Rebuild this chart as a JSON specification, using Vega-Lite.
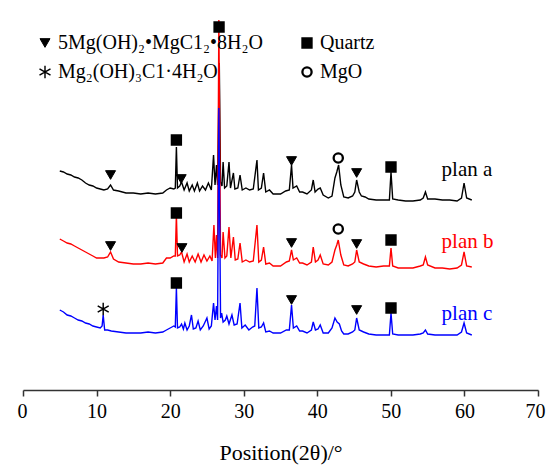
{
  "$schema": "https://vega.github.io/schema/vega-lite/v6.json",
  "width": 515,
  "height": 380,
  "autosize": {"type": "none"},
  "padding": {"left": 23, "top": 10, "right": 9, "bottom": 80},
  "background": "white",
  "config": {"view": {"stroke": null}},
  "datasets": {
    "xrd": [
      {"s":"plan a","t":5.0,"v":219},{"s":"plan a","t":5.5,"v":218},{"s":"plan a","t":6.0,"v":216},{"s":"plan a","t":6.5,"v":215},{"s":"plan a","t":7.0,"v":213},{"s":"plan a","t":7.5,"v":212},{"s":"plan a","t":8.0,"v":210},{"s":"plan a","t":8.5,"v":207},{"s":"plan a","t":9.0,"v":205},{"s":"plan a","t":9.5,"v":204},{"s":"plan a","t":10.0,"v":202},{"s":"plan a","t":10.5,"v":201},{"s":"plan a","t":11.0,"v":200},{"s":"plan a","t":11.5,"v":201},{"s":"plan a","t":11.9,"v":205},{"s":"plan a","t":12.3,"v":200},{"s":"plan a","t":13.0,"v":199},{"s":"plan a","t":14.0,"v":197},{"s":"plan a","t":15.0,"v":197},{"s":"plan a","t":16.0,"v":196},{"s":"plan a","t":17.0,"v":197},{"s":"plan a","t":18.0,"v":196},{"s":"plan a","t":19.0,"v":197},{"s":"plan a","t":19.5,"v":200},{"s":"plan a","t":20.0,"v":202},{"s":"plan a","t":20.5,"v":201},{"s":"plan a","t":20.7,"v":202},{"s":"plan a","t":20.85,"v":243},{"s":"plan a","t":21.0,"v":202},{"s":"plan a","t":21.3,"v":204},{"s":"plan a","t":21.55,"v":208},{"s":"plan a","t":21.9,"v":200},{"s":"plan a","t":22.3,"v":207},{"s":"plan a","t":22.6,"v":199},{"s":"plan a","t":23.0,"v":205},{"s":"plan a","t":23.3,"v":199},{"s":"plan a","t":23.7,"v":207},{"s":"plan a","t":24.0,"v":199},{"s":"plan a","t":24.4,"v":204},{"s":"plan a","t":24.8,"v":200},{"s":"plan a","t":25.2,"v":207},{"s":"plan a","t":25.6,"v":200},{"s":"plan a","t":25.9,"v":235},{"s":"plan a","t":26.1,"v":205},{"s":"plan a","t":26.3,"v":225},{"s":"plan a","t":26.45,"v":205},{"s":"plan a","t":26.68,"v":327},{"s":"plan a","t":26.85,"v":208},{"s":"plan a","t":27.05,"v":204},{"s":"plan a","t":27.2,"v":228},{"s":"plan a","t":27.4,"v":202},{"s":"plan a","t":27.7,"v":204},{"s":"plan a","t":28.0,"v":228},{"s":"plan a","t":28.2,"v":202},{"s":"plan a","t":28.6,"v":217},{"s":"plan a","t":28.8,"v":201},{"s":"plan a","t":29.2,"v":202},{"s":"plan a","t":29.5,"v":215},{"s":"plan a","t":29.8,"v":200},{"s":"plan a","t":30.3,"v":202},{"s":"plan a","t":30.8,"v":200},{"s":"plan a","t":31.3,"v":201},{"s":"plan a","t":31.8,"v":230},{"s":"plan a","t":32.0,"v":200},{"s":"plan a","t":32.4,"v":202},{"s":"plan a","t":32.7,"v":217},{"s":"plan a","t":33.0,"v":198},{"s":"plan a","t":33.5,"v":200},{"s":"plan a","t":34.0,"v":196},{"s":"plan a","t":35.0,"v":196},{"s":"plan a","t":35.7,"v":199},{"s":"plan a","t":36.2,"v":200},{"s":"plan a","t":36.5,"v":225},{"s":"plan a","t":36.7,"v":202},{"s":"plan a","t":37.2,"v":204},{"s":"plan a","t":37.6,"v":198},{"s":"plan a","t":38.0,"v":198},{"s":"plan a","t":38.6,"v":196},{"s":"plan a","t":39.2,"v":200},{"s":"plan a","t":39.45,"v":210},{"s":"plan a","t":39.7,"v":198},{"s":"plan a","t":40.1,"v":201},{"s":"plan a","t":40.4,"v":202},{"s":"plan a","t":40.8,"v":195},{"s":"plan a","t":41.5,"v":192},{"s":"plan a","t":42.0,"v":194},{"s":"plan a","t":42.4,"v":212},{"s":"plan a","t":42.65,"v":218},{"s":"plan a","t":42.9,"v":225},{"s":"plan a","t":43.2,"v":205},{"s":"plan a","t":43.6,"v":193},{"s":"plan a","t":44.2,"v":192},{"s":"plan a","t":44.8,"v":194},{"s":"plan a","t":45.1,"v":198},{"s":"plan a","t":45.35,"v":210},{"s":"plan a","t":45.7,"v":198},{"s":"plan a","t":46.0,"v":194},{"s":"plan a","t":46.5,"v":193},{"s":"plan a","t":47.0,"v":191},{"s":"plan a","t":48.0,"v":190},{"s":"plan a","t":49.0,"v":190},{"s":"plan a","t":49.8,"v":190},{"s":"plan a","t":50.02,"v":218},{"s":"plan a","t":50.25,"v":191},{"s":"plan a","t":51.0,"v":190},{"s":"plan a","t":52.0,"v":189},{"s":"plan a","t":53.0,"v":189},{"s":"plan a","t":54.0,"v":190},{"s":"plan a","t":54.4,"v":192},{"s":"plan a","t":54.7,"v":198},{"s":"plan a","t":55.0,"v":191},{"s":"plan a","t":56.0,"v":191},{"s":"plan a","t":57.0,"v":190},{"s":"plan a","t":58.0,"v":190},{"s":"plan a","t":59.0,"v":189},{"s":"plan a","t":59.6,"v":192},{"s":"plan a","t":59.95,"v":207},{"s":"plan a","t":60.3,"v":192},{"s":"plan a","t":61.0,"v":190},

      {"s":"plan b","t":5.0,"v":151},{"s":"plan b","t":5.5,"v":149},{"s":"plan b","t":6.0,"v":147},{"s":"plan b","t":6.5,"v":146},{"s":"plan b","t":7.0,"v":144},{"s":"plan b","t":7.5,"v":142},{"s":"plan b","t":8.0,"v":140},{"s":"plan b","t":8.5,"v":138},{"s":"plan b","t":9.0,"v":136},{"s":"plan b","t":9.5,"v":134},{"s":"plan b","t":10.0,"v":132},{"s":"plan b","t":10.5,"v":132},{"s":"plan b","t":11.0,"v":132},{"s":"plan b","t":11.5,"v":133},{"s":"plan b","t":11.9,"v":138},{"s":"plan b","t":12.3,"v":131},{"s":"plan b","t":13.0,"v":128},{"s":"plan b","t":14.0,"v":127},{"s":"plan b","t":15.0,"v":126},{"s":"plan b","t":16.0,"v":126},{"s":"plan b","t":17.0,"v":127},{"s":"plan b","t":18.0,"v":126},{"s":"plan b","t":19.0,"v":127},{"s":"plan b","t":19.5,"v":132},{"s":"plan b","t":20.0,"v":132},{"s":"plan b","t":20.5,"v":134},{"s":"plan b","t":20.7,"v":134},{"s":"plan b","t":20.85,"v":175},{"s":"plan b","t":21.0,"v":134},{"s":"plan b","t":21.3,"v":135},{"s":"plan b","t":21.55,"v":138},{"s":"plan b","t":21.9,"v":128},{"s":"plan b","t":22.3,"v":136},{"s":"plan b","t":22.6,"v":128},{"s":"plan b","t":23.0,"v":134},{"s":"plan b","t":23.4,"v":128},{"s":"plan b","t":23.8,"v":136},{"s":"plan b","t":24.2,"v":128},{"s":"plan b","t":24.6,"v":135},{"s":"plan b","t":25.0,"v":129},{"s":"plan b","t":25.4,"v":134},{"s":"plan b","t":25.7,"v":129},{"s":"plan b","t":25.95,"v":165},{"s":"plan b","t":26.15,"v":132},{"s":"plan b","t":26.3,"v":155},{"s":"plan b","t":26.45,"v":132},{"s":"plan b","t":26.62,"v":370},{"s":"plan b","t":26.85,"v":135},{"s":"plan b","t":27.05,"v":132},{"s":"plan b","t":27.2,"v":158},{"s":"plan b","t":27.45,"v":132},{"s":"plan b","t":27.7,"v":134},{"s":"plan b","t":28.0,"v":163},{"s":"plan b","t":28.25,"v":132},{"s":"plan b","t":28.6,"v":153},{"s":"plan b","t":28.85,"v":130},{"s":"plan b","t":29.2,"v":131},{"s":"plan b","t":29.5,"v":147},{"s":"plan b","t":29.8,"v":128},{"s":"plan b","t":30.3,"v":130},{"s":"plan b","t":30.8,"v":128},{"s":"plan b","t":31.3,"v":129},{"s":"plan b","t":31.8,"v":165},{"s":"plan b","t":32.05,"v":128},{"s":"plan b","t":32.4,"v":130},{"s":"plan b","t":32.7,"v":143},{"s":"plan b","t":33.0,"v":126},{"s":"plan b","t":33.5,"v":127},{"s":"plan b","t":34.0,"v":124},{"s":"plan b","t":35.0,"v":124},{"s":"plan b","t":35.8,"v":128},{"s":"plan b","t":36.2,"v":129},{"s":"plan b","t":36.5,"v":140},{"s":"plan b","t":36.75,"v":130},{"s":"plan b","t":37.2,"v":132},{"s":"plan b","t":37.6,"v":127},{"s":"plan b","t":38.0,"v":127},{"s":"plan b","t":38.6,"v":125},{"s":"plan b","t":39.2,"v":128},{"s":"plan b","t":39.45,"v":143},{"s":"plan b","t":39.75,"v":128},{"s":"plan b","t":40.1,"v":130},{"s":"plan b","t":40.4,"v":135},{"s":"plan b","t":40.8,"v":126},{"s":"plan b","t":41.5,"v":125},{"s":"plan b","t":42.0,"v":128},{"s":"plan b","t":42.4,"v":140},{"s":"plan b","t":42.65,"v":145},{"s":"plan b","t":42.85,"v":150},{"s":"plan b","t":43.2,"v":135},{"s":"plan b","t":43.6,"v":125},{"s":"plan b","t":44.2,"v":124},{"s":"plan b","t":44.8,"v":126},{"s":"plan b","t":45.1,"v":128},{"s":"plan b","t":45.35,"v":140},{"s":"plan b","t":45.7,"v":128},{"s":"plan b","t":46.3,"v":126},{"s":"plan b","t":47.0,"v":124},{"s":"plan b","t":48.0,"v":123},{"s":"plan b","t":49.0,"v":124},{"s":"plan b","t":49.8,"v":124},{"s":"plan b","t":50.02,"v":142},{"s":"plan b","t":50.25,"v":124},{"s":"plan b","t":51.0,"v":122},{"s":"plan b","t":52.0,"v":122},{"s":"plan b","t":53.0,"v":122},{"s":"plan b","t":54.0,"v":124},{"s":"plan b","t":54.4,"v":125},{"s":"plan b","t":54.7,"v":133},{"s":"plan b","t":55.0,"v":125},{"s":"plan b","t":56.0,"v":122},{"s":"plan b","t":57.0,"v":122},{"s":"plan b","t":58.0,"v":121},{"s":"plan b","t":59.0,"v":122},{"s":"plan b","t":59.6,"v":125},{"s":"plan b","t":59.95,"v":138},{"s":"plan b","t":60.3,"v":124},{"s":"plan b","t":61.0,"v":123},

      {"s":"plan c","t":5.0,"v":80},{"s":"plan c","t":5.5,"v":78},{"s":"plan c","t":6.0,"v":75},{"s":"plan c","t":6.5,"v":74},{"s":"plan c","t":7.0,"v":72},{"s":"plan c","t":7.5,"v":70},{"s":"plan c","t":8.0,"v":69},{"s":"plan c","t":8.5,"v":67},{"s":"plan c","t":9.0,"v":66},{"s":"plan c","t":9.5,"v":64},{"s":"plan c","t":10.0,"v":63},{"s":"plan c","t":10.5,"v":62},{"s":"plan c","t":10.75,"v":64},{"s":"plan c","t":10.9,"v":75},{"s":"plan c","t":11.1,"v":60},{"s":"plan c","t":11.5,"v":60},{"s":"plan c","t":12.0,"v":59},{"s":"plan c","t":13.0,"v":58},{"s":"plan c","t":14.0,"v":57},{"s":"plan c","t":15.0,"v":57},{"s":"plan c","t":16.0,"v":57},{"s":"plan c","t":17.0,"v":58},{"s":"plan c","t":18.0,"v":57},{"s":"plan c","t":19.0,"v":58},{"s":"plan c","t":19.5,"v":60},{"s":"plan c","t":20.0,"v":62},{"s":"plan c","t":20.5,"v":64},{"s":"plan c","t":20.7,"v":63},{"s":"plan c","t":20.85,"v":102},{"s":"plan c","t":21.0,"v":62},{"s":"plan c","t":21.3,"v":63},{"s":"plan c","t":21.55,"v":66},{"s":"plan c","t":21.8,"v":61},{"s":"plan c","t":22.0,"v":67},{"s":"plan c","t":22.3,"v":60},{"s":"plan c","t":22.6,"v":64},{"s":"plan c","t":22.9,"v":75},{"s":"plan c","t":23.15,"v":61},{"s":"plan c","t":23.5,"v":62},{"s":"plan c","t":23.8,"v":69},{"s":"plan c","t":24.1,"v":60},{"s":"plan c","t":24.5,"v":64},{"s":"plan c","t":25.0,"v":72},{"s":"plan c","t":25.3,"v":61},{"s":"plan c","t":25.6,"v":64},{"s":"plan c","t":25.9,"v":87},{"s":"plan c","t":26.1,"v":70},{"s":"plan c","t":26.3,"v":84},{"s":"plan c","t":26.45,"v":70},{"s":"plan c","t":26.62,"v":282},{"s":"plan c","t":26.85,"v":72},{"s":"plan c","t":27.0,"v":77},{"s":"plan c","t":27.2,"v":68},{"s":"plan c","t":27.5,"v":70},{"s":"plan c","t":27.7,"v":74},{"s":"plan c","t":28.0,"v":66},{"s":"plan c","t":28.4,"v":75},{"s":"plan c","t":28.7,"v":65},{"s":"plan c","t":29.1,"v":66},{"s":"plan c","t":29.5,"v":87},{"s":"plan c","t":29.75,"v":62},{"s":"plan c","t":30.2,"v":65},{"s":"plan c","t":30.7,"v":60},{"s":"plan c","t":31.2,"v":63},{"s":"plan c","t":31.5,"v":64},{"s":"plan c","t":31.8,"v":102},{"s":"plan c","t":32.05,"v":62},{"s":"plan c","t":32.4,"v":63},{"s":"plan c","t":32.7,"v":67},{"s":"plan c","t":33.0,"v":58},{"s":"plan c","t":33.5,"v":59},{"s":"plan c","t":34.0,"v":57},{"s":"plan c","t":35.0,"v":57},{"s":"plan c","t":35.8,"v":60},{"s":"plan c","t":36.2,"v":60},{"s":"plan c","t":36.5,"v":85},{"s":"plan c","t":36.75,"v":62},{"s":"plan c","t":37.2,"v":64},{"s":"plan c","t":37.6,"v":59},{"s":"plan c","t":38.0,"v":59},{"s":"plan c","t":38.6,"v":57},{"s":"plan c","t":39.2,"v":60},{"s":"plan c","t":39.45,"v":68},{"s":"plan c","t":39.75,"v":60},{"s":"plan c","t":40.1,"v":61},{"s":"plan c","t":40.4,"v":65},{"s":"plan c","t":40.8,"v":57},{"s":"plan c","t":41.5,"v":57},{"s":"plan c","t":42.0,"v":62},{"s":"plan c","t":42.4,"v":72},{"s":"plan c","t":42.7,"v":68},{"s":"plan c","t":43.0,"v":66},{"s":"plan c","t":43.3,"v":59},{"s":"plan c","t":43.6,"v":56},{"s":"plan c","t":44.2,"v":56},{"s":"plan c","t":44.8,"v":58},{"s":"plan c","t":45.1,"v":60},{"s":"plan c","t":45.35,"v":72},{"s":"plan c","t":45.7,"v":60},{"s":"plan c","t":46.3,"v":58},{"s":"plan c","t":47.0,"v":56},{"s":"plan c","t":48.0,"v":55},{"s":"plan c","t":49.0,"v":55},{"s":"plan c","t":49.8,"v":55},{"s":"plan c","t":50.02,"v":77},{"s":"plan c","t":50.25,"v":56},{"s":"plan c","t":51.0,"v":55},{"s":"plan c","t":52.0,"v":55},{"s":"plan c","t":53.0,"v":55},{"s":"plan c","t":54.0,"v":56},{"s":"plan c","t":54.4,"v":57},{"s":"plan c","t":54.7,"v":60},{"s":"plan c","t":55.0,"v":56},{"s":"plan c","t":56.0,"v":55},{"s":"plan c","t":57.0,"v":55},{"s":"plan c","t":58.0,"v":55},{"s":"plan c","t":59.0,"v":55},{"s":"plan c","t":59.6,"v":58},{"s":"plan c","t":59.95,"v":67},{"s":"plan c","t":60.3,"v":57},{"s":"plan c","t":61.0,"v":55}
    ],
    "peaks": [
      {"s":"plan a","phase":"5Mg(OH)₂•MgC1₂•8H₂O","t":11.9,"v":215},
      {"s":"plan a","phase":"5Mg(OH)₂•MgC1₂•8H₂O","t":21.5,"v":211},
      {"s":"plan a","phase":"5Mg(OH)₂•MgC1₂•8H₂O","t":36.5,"v":229},
      {"s":"plan a","phase":"5Mg(OH)₂•MgC1₂•8H₂O","t":45.35,"v":217},
      {"s":"plan a","phase":"Quartz","t":20.85,"v":250},
      {"s":"plan a","phase":"Quartz","t":26.65,"v":363},
      {"s":"plan a","phase":"Quartz","t":50.02,"v":223},
      {"s":"plan a","phase":"MgO","t":42.85,"v":232},
      {"s":"plan b","phase":"5Mg(OH)₂•MgC1₂•8H₂O","t":11.9,"v":144},
      {"s":"plan b","phase":"5Mg(OH)₂•MgC1₂•8H₂O","t":21.6,"v":142},
      {"s":"plan b","phase":"5Mg(OH)₂•MgC1₂•8H₂O","t":36.5,"v":147},
      {"s":"plan b","phase":"5Mg(OH)₂•MgC1₂•8H₂O","t":45.35,"v":146},
      {"s":"plan b","phase":"Quartz","t":20.85,"v":177},
      {"s":"plan b","phase":"Quartz","t":50.02,"v":150},
      {"s":"plan b","phase":"MgO","t":42.85,"v":161},
      {"s":"plan c","phase":"Mg₂(OH)₃C1·4H₂O","t":10.9,"v":81},
      {"s":"plan c","phase":"Quartz","t":20.85,"v":107},
      {"s":"plan c","phase":"Quartz","t":50.02,"v":82},
      {"s":"plan c","phase":"5Mg(OH)₂•MgC1₂•8H₂O","t":36.5,"v":90},
      {"s":"plan c","phase":"5Mg(OH)₂•MgC1₂•8H₂O","t":45.35,"v":80}
    ],
    "labels": [
      {"s":"plan a","t":56.9,"v":214},
      {"s":"plan b","t":56.9,"v":142},
      {"s":"plan c","t":56.9,"v":70}
    ]
  },
  "layer": [
    {
      "data": {"name": "xrd"},
      "mark": {"type": "line", "strokeWidth": 1.4, "interpolate": "linear"},
      "encoding": {
        "x": {"field": "t", "type": "quantitative",
              "scale": {"domain": [0, 70], "nice": false, "zero": false},
              "axis": {
                "values": [0,5,10,15,20,25,30,35,40,45,50,55,60,65,70],
                "labelExpr": "datum.value % 10 === 0 ? datum.label : ''",
                "tickSize": {"expr": "datum.value % 10 === 0 ? 6 : 2"},
                "labelOffset": {"expr": "datum.value === 70 ? -3 : (datum.value === 0 ? -1 : 0)"},
                "grid": false,
                "title": "Position(2θ)/°",
                "domainColor": "#333333",
                "domainWidth": 1.5,
                "tickColor": "#333333",
                "tickWidth": 1.5,
                "labelFont": "Liberation Serif",
                "labelFontSize": 20,
                "labelColor": "#000000",
                "labelPadding": 5,
                "labelFlush": false,
                "titleFont": "Liberation Serif",
                "titleFontSize": 22,
                "titleFontWeight": "normal",
                "titleColor": "#000000",
                "titlePadding": 21
              }},
        "y": {"field": "v", "type": "quantitative",
              "scale": {"domain": [0, 380], "nice": false, "zero": false},
              "axis": null},
        "color": {"field": "s", "type": "nominal",
                  "scale": {"domain": ["plan a", "plan b", "plan c"], "range": ["#000000", "#ff0000", "#0000ff"]},
                  "legend": null}
      }
    },
    {
      "data": {"name": "peaks"},
      "mark": {"type": "point", "filled": false, "opacity": 1},
      "encoding": {
        "x": {"field": "t", "type": "quantitative"},
        "y": {"field": "v", "type": "quantitative"},
        "shape": {"field": "phase", "type": "nominal",
                  "scale": {"domain": ["5Mg(OH)₂•MgC1₂•8H₂O", "Mg₂(OH)₃C1·4H₂O", "Quartz", "MgO"],
                            "range": ["triangle-down", "M0,-1.3L0,1.3M-1.13,-0.65L1.13,0.65M-1.13,0.65L1.13,-0.65", "square", "circle"]},
                  "legend": {"orient": "none", "legendX": 12, "legendY": 23, "columns": 2, "title": null,
                             "labelFont": "Liberation Serif", "labelFontSize": 20, "labelColor": "#000000",
                             "labelLimit": 0, "labelOffset": 3,
                             "rowPadding": 9, "columnPadding": 34, "padding": 0}},
        "fill": {"field": "phase", "type": "nominal",
                 "scale": {"domain": ["5Mg(OH)₂•MgC1₂•8H₂O", "Mg₂(OH)₃C1·4H₂O", "Quartz", "MgO"],
                           "range": ["#000000", "transparent", "#000000", "#ffffff"]}},
        "stroke": {"field": "phase", "type": "nominal",
                   "scale": {"domain": ["5Mg(OH)₂•MgC1₂•8H₂O", "Mg₂(OH)₃C1·4H₂O", "Quartz", "MgO"],
                             "range": ["#000000", "#000000", "#000000", "#000000"]}},
        "strokeWidth": {"field": "phase", "type": "nominal",
                   "scale": {"domain": ["5Mg(OH)₂•MgC1₂•8H₂O", "Mg₂(OH)₃C1·4H₂O", "Quartz", "MgO"],
                             "range": [1, 2.3, 1, 1.3]}},
        "size": {"field": "phase", "type": "nominal",
                 "scale": {"domain": ["5Mg(OH)₂•MgC1₂•8H₂O", "Mg₂(OH)₃C1·4H₂O", "Quartz", "MgO"],
                           "range": [100, 85, 45, 75]}}
      }
    },
    {
      "data": {"name": "labels"},
      "mark": {"type": "text", "align": "left", "baseline": "alphabetic", "font": "Liberation Serif", "fontSize": 21},
      "encoding": {
        "x": {"field": "t", "type": "quantitative"},
        "y": {"field": "v", "type": "quantitative"},
        "text": {"field": "s"},
        "color": {"field": "s", "type": "nominal", "legend": null}
      }
    }
  ]
}
